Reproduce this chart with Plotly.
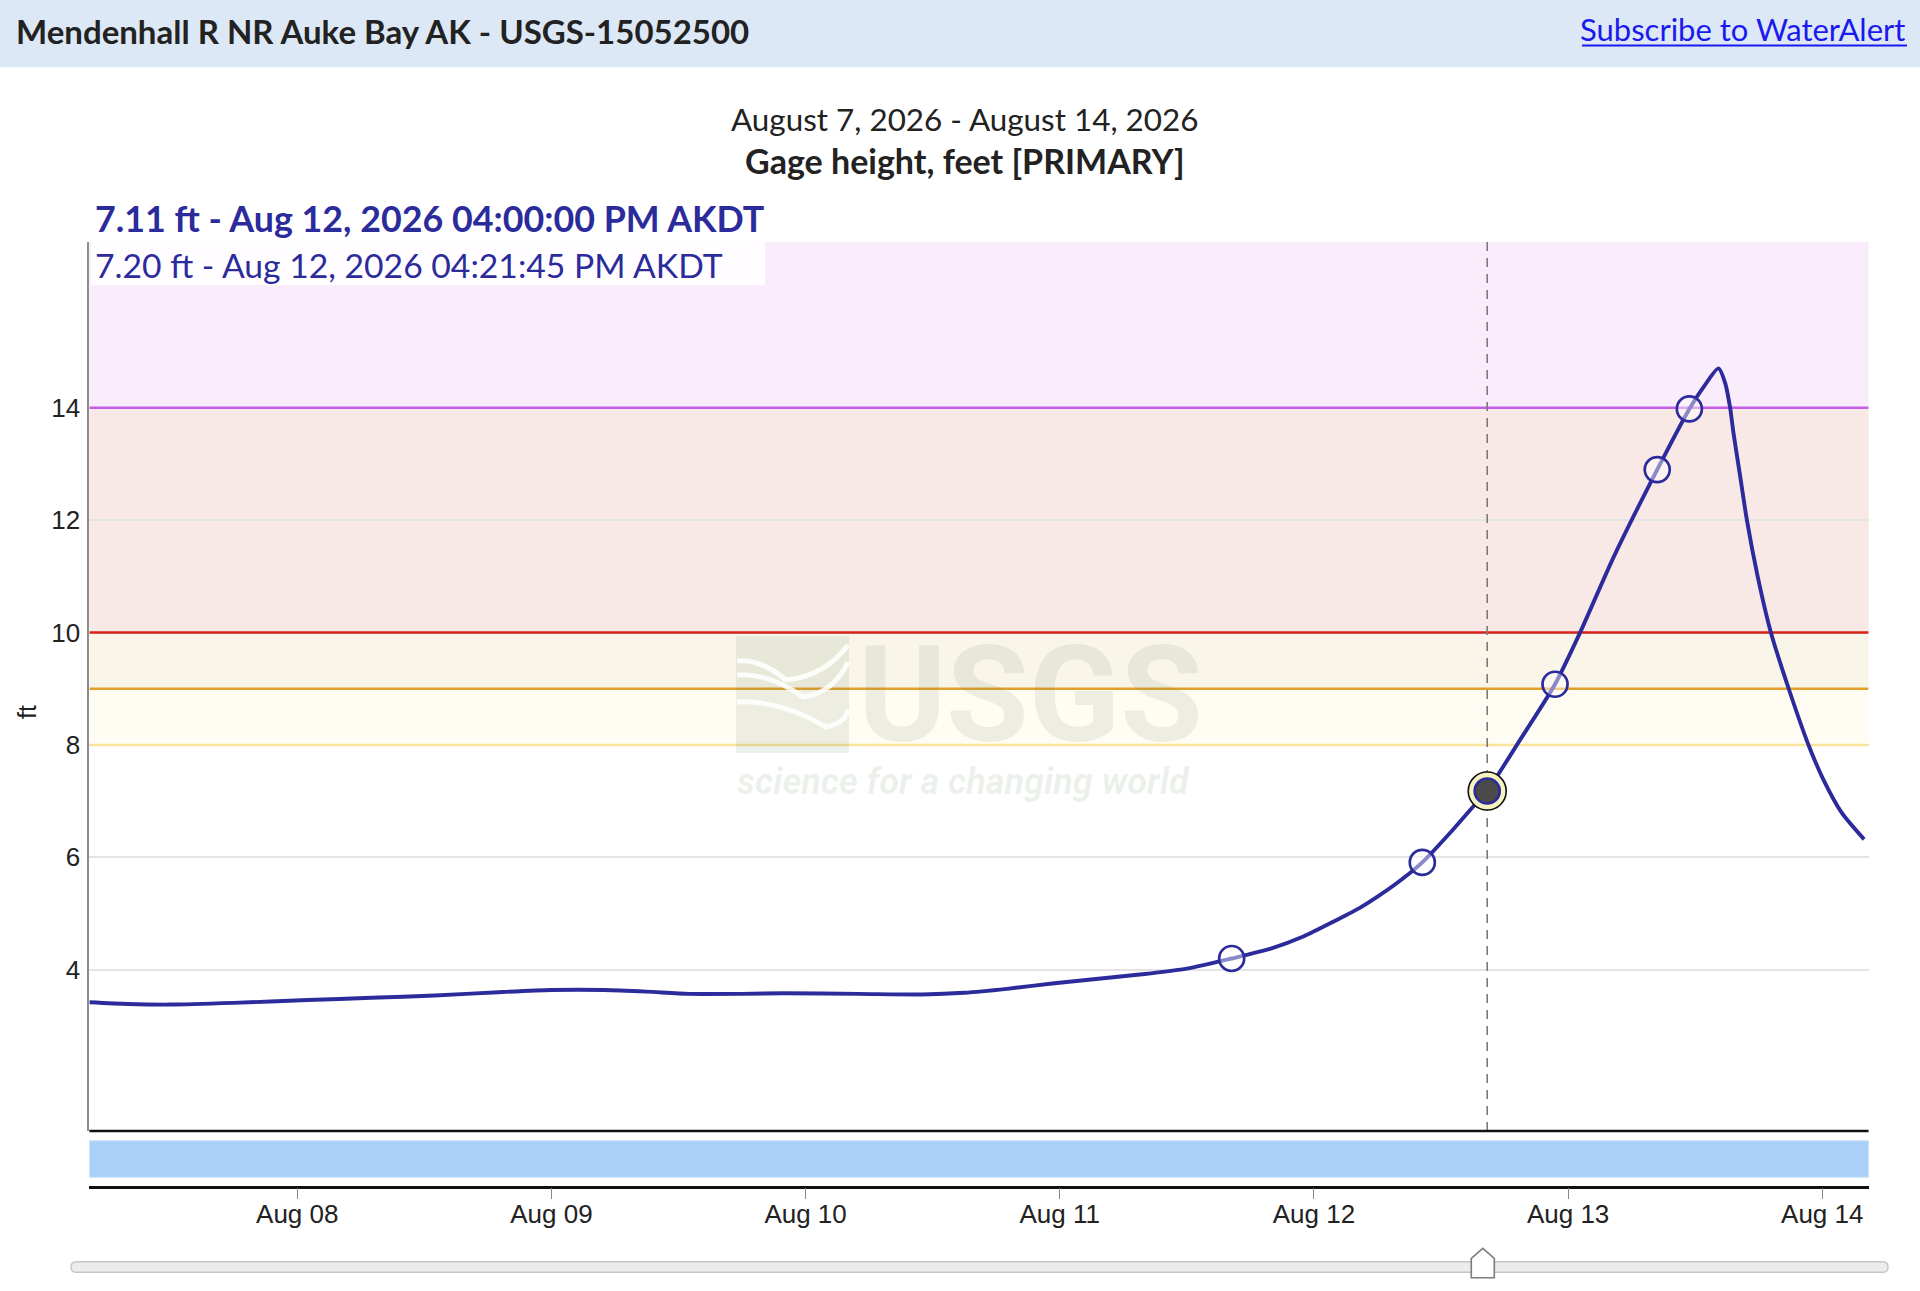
import plotly.graph_objects as go

# ---------------- data ----------------
TIMES = [
    "2026-08-07 04:22", "2026-08-07 08:00", "2026-08-07 12:00", "2026-08-07 18:00",
    "2026-08-08 01:00", "2026-08-08 07:00", "2026-08-08 13:00", "2026-08-08 19:00",
    "2026-08-09 00:00", "2026-08-09 05:00", "2026-08-09 09:00", "2026-08-09 13:00",
    "2026-08-09 18:00", "2026-08-09 22:00", "2026-08-10 05:00", "2026-08-10 11:00",
    "2026-08-10 15:00", "2026-08-10 19:00", "2026-08-10 23:30", "2026-08-11 07:20",
    "2026-08-11 12:00", "2026-08-11 16:14", "2026-08-11 20:00", "2026-08-11 23:00",
    "2026-08-12 02:00", "2026-08-12 04:20", "2026-08-12 06:15", "2026-08-12 08:15",
    "2026-08-12 10:14", "2026-08-12 13:10", "2026-08-12 16:00", "2026-08-12 16:21:45",
    "2026-08-12 19:28", "2026-08-12 22:46", "2026-08-13 01:08", "2026-08-13 04:16",
    "2026-08-13 08:25", "2026-08-13 11:27", "2026-08-13 12:50", "2026-08-13 14:12",
    "2026-08-13 14:50", "2026-08-13 15:18", "2026-08-13 15:37", "2026-08-13 16:15",
    "2026-08-13 16:53", "2026-08-13 17:54", "2026-08-13 19:09", "2026-08-13 20:50",
    "2026-08-13 22:42", "2026-08-14 00:07", "2026-08-14 01:51", "2026-08-14 03:57",
]
GAGE_FT = [
    3.42, 3.39, 3.38, 3.41,
    3.46, 3.50, 3.54, 3.60,
    3.64, 3.64, 3.61, 3.57,
    3.57, 3.58, 3.57, 3.56,
    3.59, 3.66, 3.76, 3.91,
    4.02, 4.20, 4.38, 4.59,
    4.87, 5.10, 5.33, 5.60,
    5.91, 6.50, 7.11, 7.18,
    8.09, 9.08, 10.00, 11.33,
    12.90, 13.98, 14.38, 14.70,
    14.44, 14.00, 13.55, 12.78,
    12.00, 11.00, 10.00, 9.00,
    8.00, 7.38, 6.79, 6.32,
]
MARK_TIMES = ["2026-08-11 16:14", "2026-08-12 10:14", "2026-08-12 22:46",
              "2026-08-13 08:25", "2026-08-13 11:27"]
MARK_FT = [4.20, 5.91, 9.08, 12.90, 13.98]

CURSOR_TIME = "2026-08-12 16:21:45"
CURSOR_FT = 7.18

THRESH_FT = [8, 9, 10, 14]
THRESH_LINE_COLORS = ["#f9e39a", "#e0a02a", "#d8231b", "#c55de6"]
BAND_COLORS = ["#fffcf3", "#faf5e9", "#f9e9e6", "#f9ecfb"]

X_RANGE = ["2026-08-07 04:22:30", "2026-08-14 04:22:30"]
Y_RANGE = [1.13, 16.95]
Y_TICKS = [4, 6, 8, 10, 12, 14]
X_TICKS = ["2026-08-08", "2026-08-09", "2026-08-10", "2026-08-11",
           "2026-08-12", "2026-08-13", "2026-08-14"]
X_TICK_TEXT = ["Aug 08", "Aug 09", "Aug 10", "Aug 11", "Aug 12", "Aug 13", "Aug 14"]

SITE_TITLE = "Mendenhall R NR Auke Bay AK - USGS-15052500"
LINK_TEXT = "Subscribe to WaterAlert"
DATE_SPAN = "August 7, 2026 - August 14, 2026"
PARAM_TITLE = "Gage height, feet [PRIMARY]"
POINT_LABEL = "7.11 ft - Aug 12, 2026 04:00:00 PM AKDT"
CURSOR_LABEL = "7.20 ft - Aug 12, 2026 04:21:45 PM AKDT"

# ---------------- layout helpers ----------------
W, H = 1920, 1291
def px(x):
    return x / W
def py(y):
    return 1 - y / H

NAVY = "#2b2b9b"
UI_FONT = "Lato, 'Open Sans', sans-serif"
AX_FONT = "'Liberation Sans', Arial, sans-serif"
WM_FONT = "Roboto, 'Liberation Sans', sans-serif"
WM = "rgba(110,140,95,0.12)"

fig = go.Figure()

# threshold lines (under the hydrograph)
for v, col in zip(THRESH_FT, THRESH_LINE_COLORS):
    fig.add_trace(go.Scatter(x=X_RANGE, y=[v, v], mode="lines",
                             line=dict(color=col, width=2.6),
                             hoverinfo="skip", showlegend=False))
# cursor line
fig.add_trace(go.Scatter(x=[CURSOR_TIME, CURSOR_TIME], y=Y_RANGE, mode="lines",
                         line=dict(color="#7a7a7a", width=1.6, dash="9px,7px"),
                         hoverinfo="skip", showlegend=False))

fig.add_trace(go.Scatter(
    x=TIMES, y=GAGE_FT, mode="lines",
    line=dict(color=NAVY, width=3.9, shape="spline", smoothing=0.7),
    hoverinfo="skip", showlegend=False))
fig.add_trace(go.Scatter(
    x=MARK_TIMES, y=MARK_FT, mode="markers",
    marker=dict(symbol="circle", size=25, color="rgba(255,255,255,0.45)",
                line=dict(color=NAVY, width=2.7)),
    hoverinfo="skip", showlegend=False))
fig.add_trace(go.Scatter(
    x=[CURSOR_TIME], y=[CURSOR_FT], mode="markers",
    marker=dict(symbol="circle", size=38, color="#f7f3c0",
                line=dict(color="#111111", width=1.6)),
    hoverinfo="skip", showlegend=False))
fig.add_trace(go.Scatter(
    x=[CURSOR_TIME], y=[CURSOR_FT], mode="markers",
    marker=dict(symbol="circle", size=25, color="#4a4a4a",
                line=dict(color=NAVY, width=2.7)),
    hoverinfo="skip", showlegend=False))

shapes = []
# header band
shapes.append(dict(type="rect", xref="paper", yref="paper", x0=0, x1=1,
                   y0=py(67.3), y1=1, fillcolor="#dce8f5", line_width=0, layer="below"))
# threshold bands
uppers = THRESH_FT[1:] + [Y_RANGE[1]]
for lo, hi, col in zip(THRESH_FT, uppers, BAND_COLORS):
    shapes.append(dict(type="rect", xref="x domain", yref="y", x0=0, x1=1,
                       y0=lo, y1=hi, fillcolor=col, line_width=0, layer="below"))
# bottom border of plot area
shapes.append(dict(type="line", xref="x domain", yref="y domain", x0=0, x1=1, y0=0, y1=0,
                   line=dict(color="#111111", width=2.5), layer="above"))
# blue availability band
shapes.append(dict(type="rect", xref="x domain", yref="paper", x0=0, x1=1,
                   y0=py(1177.3), y1=py(1140.7), fillcolor="#aad0f8",
                   line=dict(color="#cfe3fb", width=1), layer="above"))
# white box behind cursor label
shapes.append(dict(type="rect", xref="paper", yref="paper", x0=px(91), x1=px(765),
                   y0=py(285), y1=py(242), fillcolor="rgba(255,255,255,0.88)",
                   line_width=0, layer="above"))
# link underline
shapes.append(dict(type="line", xref="paper", yref="paper", x0=px(1582), x1=px(1907),
                   y0=py(45.5), y1=py(45.5), line=dict(color="#1a1aee", width=2),
                   layer="above"))
# bottom slider (rounded bar)
bx0, bx1, by0, by1, r = 71, 1888, 1261.7, 1272.3, 5.3
bar = ("M {} {} L {} {} Q {} {} {} {} Q {} {} {} {} L {} {} "
       "Q {} {} {} {} Q {} {} {} {} Z").format(
    px(bx0 + r), py(by0), px(bx1 - r), py(by0),
    px(bx1), py(by0), px(bx1), py(by0 + r),
    px(bx1), py(by1), px(bx1 - r), py(by1),
    px(bx0 + r), py(by1),
    px(bx0), py(by1), px(bx0), py(by0 + r),
    px(bx0), py(by0), px(bx0 + r), py(by0))
shapes.append(dict(type="path", xref="paper", yref="paper", path=bar,
                   fillcolor="#ececec", line=dict(color="#c6c6c6", width=1.4), layer="above"))
hx = 1482.8
handle = "M {} {} L {} {} L {} {} L {} {} L {} {} Z".format(
    px(hx), py(1248.3), px(hx + 11.5), py(1258.3), px(hx + 11.5), py(1277.7),
    px(hx - 11.5), py(1277.7), px(hx - 11.5), py(1258.3))
shapes.append(dict(type="path", xref="paper", yref="paper", path=handle,
                   fillcolor="#ffffff", line=dict(color="#7d7d7d", width=1.6), layer="above"))
# watermark logo box with waves
shapes.append(dict(type="rect", xref="paper", yref="paper", x0=px(736), x1=px(849),
                   y0=py(753), y1=py(636), fillcolor=WM, line_width=0, layer="above"))
WAVES = [((661, 680, 645), 786), ((675, 697, 662), 803), ((702, 727, 710), 826)]
for (yl, ym, yr), xm in WAVES:
    p = "M {} {} Q {} {} {} {} Q {} {} {} {}".format(
        px(737), py(yl), px((737 + xm) / 2), py(yl - 2), px(xm), py(ym),
        px((xm + 848) / 2 + 8), py(ym - 4), px(848), py(yr))
    shapes.append(dict(type="path", xref="paper", yref="paper", path=p,
                       line=dict(color="rgba(255,255,255,0.85)", width=5), layer="above"))

ann = []
def text(x, y, s, size, color="#222222", family=UI_FONT, xanchor="left", **kw):
    ann.append(dict(x=px(x), y=py(y), xref="paper", yref="paper", text=s, showarrow=False,
                    xanchor=xanchor, yanchor="middle",
                    font=dict(size=size, color=color, family=family), **kw))

text(14, 31, "<b>" + SITE_TITLE + "</b>", 33)
text(1907, 29, LINK_TEXT, 31, color="#1a1aee", xanchor="right")
text(964.5, 119, DATE_SPAN, 31.4, xanchor="center")
text(964.5, 160, "<b>" + PARAM_TITLE + "</b>", 34, xanchor="center")
text(93, 218, "<b>" + POINT_LABEL + "</b>", 35.8, color=NAVY)
text(93, 264.5, CURSOR_LABEL, 33.7, color=NAVY)
text(27, 712, "ft", 25, family=AX_FONT, xanchor="center", textangle=-90)
# watermark text
text(1030.5, 695, "<b>USGS</b>", 134, color=WM, family=WM_FONT, xanchor="center",
     height=122, valign="middle")
text(963.5, 782, "<b><i>science for a changing world</i></b>", 36, color=WM,
     family=WM_FONT, xanchor="center")

fig.update_layout(
    width=W, height=H, margin=dict(l=0, r=0, t=0, b=0),
    paper_bgcolor="white", plot_bgcolor="white",
    showlegend=False, shapes=shapes, annotations=ann,
    xaxis=dict(type="date", range=X_RANGE, domain=[px(89.4), px(1868.6)],
               anchor="free", position=py(1186.7),
               showline=True, linecolor="#111111", linewidth=2.5,
               ticks="outside", ticklen=11, tickwidth=1, tickcolor="#888888",
               tickvals=X_TICKS, ticktext=X_TICK_TEXT, ticklabelstandoff=-8,
               tickfont=dict(size=26, family=AX_FONT, color="#222222"),
               showgrid=False, zeroline=False, fixedrange=True),
    yaxis=dict(range=Y_RANGE, domain=[py(1131), py(242)], anchor="x",
               tickvals=Y_TICKS, showgrid=True, gridcolor="#e4e4e4", gridwidth=1.5,
               showline=True, linecolor="#8c8c8c", linewidth=2,
               ticks="", ticklabelstandoff=2,
               tickfont=dict(size=26, family=AX_FONT, color="#222222"),
               zeroline=False, fixedrange=True),
)

fig.write_html("out.html", config={"displayModeBar": False},
               post_script="document.body.style.margin='0';document.body.style.overflow='hidden';")
